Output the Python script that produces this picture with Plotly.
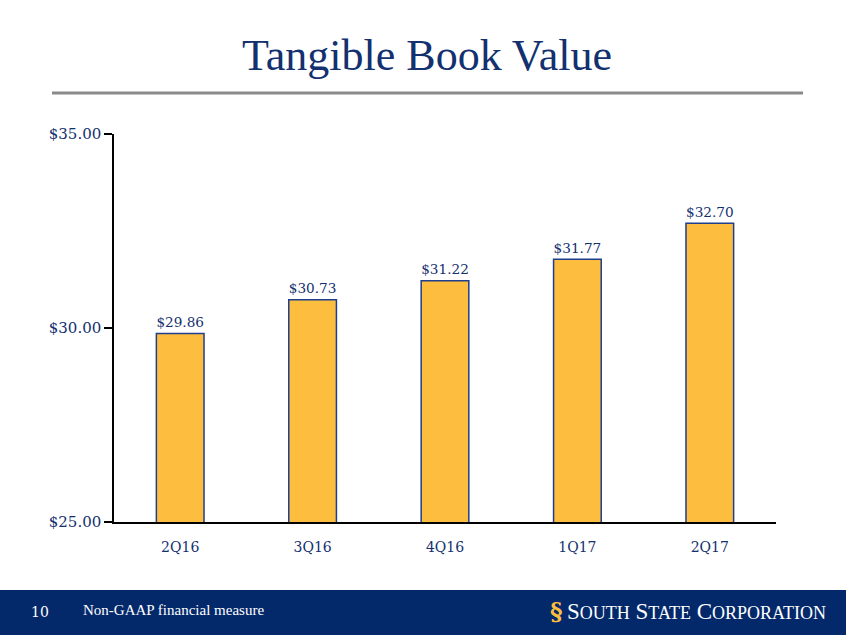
import plotly.graph_objects as go

categories = ["2Q16", "3Q16", "4Q16", "1Q17", "2Q17"]
values = [29.86, 30.73, 31.22, 31.77, 32.70]
value_labels = ["$29.86", "$30.73", "$31.22", "$31.77", "$32.70"]
tick_vals = [25, 30, 35]
tick_text = ["$25.00", "$30.00", "$35.00"]

NAVY = "#13306F"
BAR = "#FDBE40"

W, H = 846, 635
L, R, T, B = 114, 70, 134, 113
pw, ph = W - L - R, H - T - B

def px(x):
    return (x - L) / pw

def py(y):
    return (H - B - y) / ph

fig = go.Figure()
fig.add_trace(go.Bar(
    x=categories, y=values,
    marker=dict(color=BAR, line=dict(color="#1F3E8C", width=1.5)),
    width=0.36,
    text=value_labels, textposition="outside",
    textfont=dict(family="DejaVu Serif", size=15, color=NAVY),
    cliponaxis=False,
))

shapes = [
    dict(type="rect", xref="paper", yref="paper", x0=px(-20), x1=px(W + 20), y0=py(590), y1=py(H + 20),
         fillcolor="#03296B", line=dict(width=0), layer="below"),
    dict(type="line", xref="paper", yref="paper", x0=px(52), x1=px(803), y0=py(93), y1=py(93),
         line=dict(color="#8A8A8A", width=3)),
]

annotations = [
    dict(text="Tangible Book Value", xref="paper", yref="paper", x=px(427), y=py(55),
         showarrow=False, xanchor="center", yanchor="middle",
         font=dict(family="Liberation Serif", size=44, color=NAVY)),
    dict(text="10", xref="paper", yref="paper", x=px(29), y=py(612),
         showarrow=False, xanchor="left", yanchor="middle",
         font=dict(family="DejaVu Serif", size=14, color="white")),
    dict(text="Non-GAAP financial measure", xref="paper", yref="paper", x=px(81), y=py(610),
         showarrow=False, xanchor="left", yanchor="middle",
         font=dict(family="Liberation Serif", size=15, color="white")),
    dict(text="<b>§</b>", xref="paper", yref="paper", x=px(556), y=py(611),
         showarrow=False, xanchor="center", yanchor="middle",
         font=dict(family="DejaVu Serif", size=24, color="#FDBE40")),
    dict(text="S<span style='font-size:18px'>OUTH</span> S<span style='font-size:18px'>TATE</span> C<span style='font-size:18px'>ORPORATION</span>",
         xref="paper", yref="paper", x=px(828), y=py(611),
         showarrow=False, xanchor="right", yanchor="middle",
         font=dict(family="Liberation Serif", size=23, color="white")),
]

fig.update_layout(
    width=W, height=H,
    margin=dict(l=L, r=R, t=T, b=B, pad=0),
    paper_bgcolor="white", plot_bgcolor="white",
    showlegend=False,
    shapes=shapes,
    annotations=annotations,
    xaxis=dict(
        showline=True, linecolor="black", linewidth=1.5,
        ticks="outside", ticklen=11, tickcolor="rgba(0,0,0,0)", showgrid=False,
        tickfont=dict(family="DejaVu Serif", size=14, color=NAVY),
    ),
    yaxis=dict(
        range=[25, 35], tickvals=tick_vals, ticktext=tick_text,
        showline=True, linecolor="black", linewidth=1.5,
        ticks="outside", ticklen=8, tickcolor="black", tickwidth=1.5,
        showgrid=False, zeroline=False,
        tickfont=dict(family="DejaVu Serif", size=15, color=NAVY),
    ),
)

fig.write_html("out.html", config={"displayModeBar": False},
               post_script="document.body.style.margin='0';")
